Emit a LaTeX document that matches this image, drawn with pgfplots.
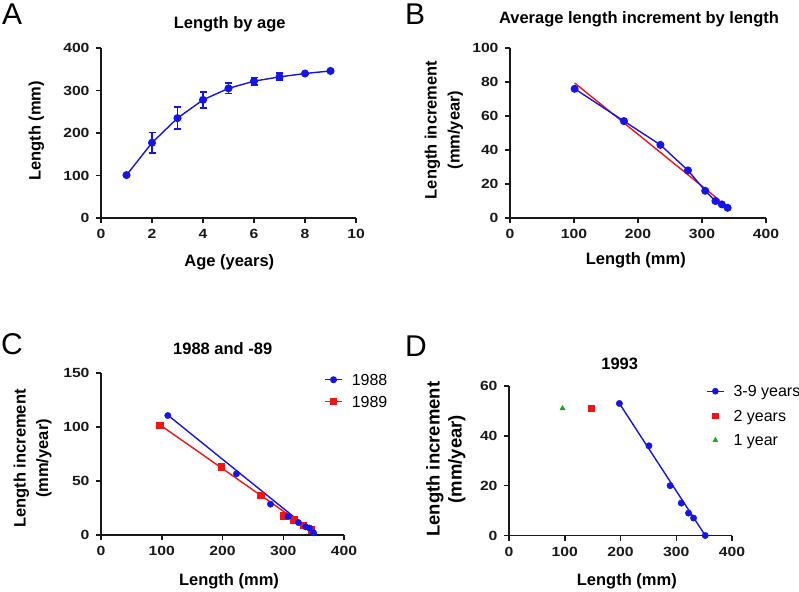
\documentclass[border=0pt]{standalone}
\usepackage{fontspec}
\setmainfont{Liberation Sans}
\newfontfamily\tickf{Liberation Sans}[FakeStretch=1.18]
\usepackage{pgfplots}
\pgfplotsset{compat=1.18}
\definecolor{myblue}{RGB}{20,20,235}
\definecolor{myred}{RGB}{240,20,20}
\definecolor{mygreen}{RGB}{20,170,20}
\definecolor{axcol}{RGB}{25,25,25}
\newcommand{\lab}{\bfseries\fontsize{16.5}{18}\selectfont}
\newcommand{\letf}{\fontsize{30}{32}\selectfont}
\pgfplotsset{
 panel/.style={
  scale only axis,
  anchor=south west,
  axis lines=left,
  axis line style={-, line width=1.5pt, color=axcol},
  tick align=outside,
  major tick length=5pt,
  every tick/.style={line width=1.5pt, color=axcol},
  tick label style={font=\tickf\bfseries\fontsize{13.3}{13.3}\selectfont, text=axcol},
  xticklabel shift=3pt,
  yticklabel shift=3pt,
  /pgf/number format/assume math mode=true,
  clip=false,
 },
 leg/.style={legend style={draw=none, fill=none, anchor=north west,
    font=\fontsize{16}{16}\selectfont, inner sep=0pt,
    nodes={inner ysep=0pt, text height=11.5pt, text depth=0pt},
    /tikz/every odd column/.append style={column sep=7pt}},
  legend cell align=left}
}
\begin{document}
\begin{tikzpicture}
\path[use as bounding box] (0,0) rectangle (799pt,591pt);
% ---------- A
\begin{axis}[panel, at={(101pt,373pt)}, width=255pt, height=170pt,
  xmin=0, xmax=10, ymin=0, ymax=400, xtick={0,2,...,10}, ytick={0,100,...,400}]
\addplot[myblue, line width=1.4pt, mark=*, mark size=3.3pt, mark options={fill=myblue, draw=myblue},
  error bars/.cd, y dir=both, y explicit,
  error bar style={line width=1.6pt, myblue},
  error mark options={rotate=90, mark size=3.5pt, line width=1.6pt, myblue}]
  table[x=x, y=y, y error plus=ep, y error minus=em] {
x y ep em
1 101 0 0
2 177 24 24
3 235 26 26
4 278 19 19
5 305 13 12
6 322 9 9
7 332 9 8
8 340 2 2
9 346 2 2
};
\end{axis}
% ---------- B
\begin{axis}[panel, at={(510pt,373pt)}, width=256pt, height=170pt,
  xmin=0, xmax=400, ymin=0, ymax=100, xtick={0,100,...,400}, ytick={0,20,...,100}]
\addplot[myred, line width=1.4pt] coordinates {(101,79.4) (328,10.2)};
\addplot[myblue, line width=1.4pt, mark=*, mark size=3.3pt, mark options={fill=myblue, draw=myblue}]
  coordinates {(101,76) (178,57) (235,43) (278,28) (305,16) (321,10) (331,8) (340,6)};
\end{axis}
% ---------- C
\begin{axis}[panel, leg, at={(101pt,56pt)}, width=243pt, height=162pt,
  xmin=0, xmax=400, ymin=0, ymax=150, xtick={0,100,...,400}, ytick={0,50,100,150},
  legend style={at={(0.918,0.995)}, row sep=10pt}]
\addlegendimage{myblue, line width=1.4pt, mark=*, mark size=2.8pt, mark options={fill=myblue}}
\addlegendentry{1988}
\addlegendimage{myred, line width=1.4pt, mark=square*, mark size=2.8pt, mark options={fill=myred}}
\addlegendentry{1989}
\addplot[myred, line width=1.4pt, forget plot] coordinates {(97,102) (346,4)};
\addplot[myblue, line width=1.4pt, forget plot] coordinates {(110,111) (350,2)};
\addplot[only marks, mark=square*, mark size=3.3pt, myred, mark options={fill=myred}, forget plot]
  coordinates {(97,101.6) (198,63) (263,37) (300,18) (317,14) (333,9) (346,5)};
\addplot[only marks, mark=*, mark size=3.2pt, myblue, mark options={fill=myblue}, forget plot]
  coordinates {(110,110.6) (223,56.7) (279,28.6) (308,17) (325,11.5) (337,7.5) (343,6.5) (350,2)};
\end{axis}
% ---------- D
\begin{axis}[panel, leg, at={(509pt,55.5pt)}, width=223pt, height=149.5pt,
  xmin=0, xmax=400, ymin=0, ymax=60, xtick={0,100,...,400}, ytick={0,20,40,60},
  legend style={at={(0.883,1.005)}, row sep=13pt}]
\addlegendimage{myblue, line width=1.4pt, mark=*, mark size=2.6pt, mark options={fill=myblue}}
\addlegendentry{3-9 years}
\addlegendimage{only marks, myred, mark=square*, mark size=2.8pt, mark options={fill=myred}}
\addlegendentry{2 years}
\addlegendimage{only marks, mygreen, mark=triangle*, mark size=2.8pt, mark options={fill=mygreen}}
\addlegendentry{1 year}
\addplot[myblue, line width=1.4pt, forget plot] coordinates {(198,53) (352,0)};
\addplot[only marks, mark=*, mark size=3.2pt, myblue, mark options={fill=myblue}, forget plot]
  coordinates {(198,53) (251,36) (289,20) (309,13) (322,9) (331,7) (352,0)};
\addplot[only marks, mark=square*, mark size=3pt, myred, mark options={fill=myred}, forget plot]
  coordinates {(148,51)};
\addplot[only marks, mark=triangle*, mark size=3pt, mygreen, mark options={fill=mygreen}, forget plot]
  coordinates {(96,51)};
\end{axis}
% ---------- panel letters
\node[anchor=base west, inner sep=0pt, font=\letf] at (2pt,566pt) {A};
\node[anchor=base west, inner sep=0pt, font=\letf] at (405pt,566pt) {B};
\node[anchor=base west, inner sep=0pt, font=\letf] at (1pt,236pt) {C};
\node[anchor=base west, inner sep=0pt, font=\letf] at (405pt,234pt) {D};
% ---------- titles
\node[anchor=base, inner sep=0pt, font=\lab] at (229.7pt,562.7pt) {Length by age};
\node[anchor=base, inner sep=0pt, font=\lab] at (639pt,567pt) {Average length increment by length};
\node[anchor=base, inner sep=0pt, font=\lab] at (222.7pt,236pt) {1988 and -89};
\node[anchor=base, inner sep=0pt, font=\lab] at (619.7pt,221pt) {1993};
% ---------- x labels
\node[anchor=base, inner sep=0pt, font=\lab] at (229.3pt,324.3pt) {Age (years)};
\node[anchor=base, inner sep=0pt, font=\lab] at (635.8pt,326pt) {Length (mm)};
\node[anchor=base, inner sep=0pt, font=\lab] at (229pt,6pt) {Length (mm)};
\node[anchor=base, inner sep=0pt, font=\lab] at (626.8pt,6pt) {Length (mm)};
% ---------- y labels
\node[anchor=base, rotate=90, inner sep=0pt, font=\lab] at (40.5pt,460.2pt) {Length (mm)};
\node[anchor=base, rotate=90, inner sep=0pt, font=\lab] at (436.5pt,461pt) {Length increment};
\node[anchor=base, rotate=90, inner sep=0pt, font=\lab] at (459.6pt,461pt) {(mm/year)};
\node[anchor=base, rotate=90, inner sep=0pt, font=\lab] at (25.7pt,132.5pt) {Length increment};
\node[anchor=base, rotate=90, inner sep=0pt, font=\lab] at (48pt,132.5pt) {(mm/year)};
\node[anchor=base, rotate=90, inner sep=0pt, font=\bfseries\fontsize{18.5}{20}\selectfont] at (439.7pt,131.8pt) {Length increment};
\node[anchor=base, rotate=90, inner sep=0pt, font=\bfseries\fontsize{18.5}{20}\selectfont] at (461.5pt,131.8pt) {(mm/year)};
\end{tikzpicture}
\end{document}
